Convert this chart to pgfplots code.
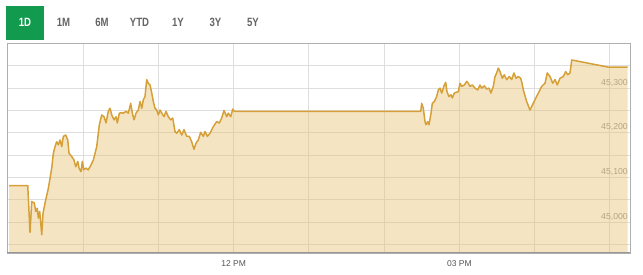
\documentclass[border=0pt]{standalone}
\usepackage{fontspec}
\setmainfont{Liberation Sans}
\newfontfamily\btnfont[FakeStretch=0.8]{Liberation Sans}
\usepackage{pgfplots}
\usepackage{pgfplotstable}
\pgfplotsset{compat=1.18}
\definecolor{btngreen}{RGB}{18,155,78}
\definecolor{btngray}{RGB}{100,100,100}
\definecolor{linegold}{RGB}{214,160,56}
\definecolor{fillgold}{RGB}{233,195,119}
\definecolor{gridc}{RGB}{222,222,222}
\definecolor{boxc}{RGB}{175,175,175}
\definecolor{axisdark}{RGB}{150,150,150}
\definecolor{ylab}{RGB}{140,140,140}
\definecolor{xlab}{RGB}{85,85,85}
\pgfplotstableread{
h v
9.012 45082
9.261 45082
9.291 44977
9.314 45046
9.348 45043
9.367 45024
9.388 45031
9.402 45009
9.420 45024
9.447 44972
9.464 45020
9.491 45043
9.535 45076
9.580 45121
9.601 45154
9.624 45169
9.646 45180
9.668 45173
9.690 45184
9.713 45169
9.734 45192
9.766 45195
9.793 45184
9.810 45154
9.846 45147
9.876 45139
9.899 45124
9.926 45136
9.943 45121
9.969 45113
9.987 45136
10.005 45117
10.032 45121
10.066 45117
10.102 45128
10.133 45139
10.178 45169
10.213 45218
10.245 45240
10.275 45236
10.302 45222
10.332 45248
10.355 45255
10.378 45240
10.408 45229
10.435 45236
10.452 45222
10.479 45244
10.511 45245
10.532 45244
10.568 45248
10.598 45244
10.630 45266
10.652 45244
10.674 45229
10.701 45244
10.731 45251
10.754 45270
10.777 45255
10.798 45274
10.820 45281
10.843 45319
10.864 45311
10.887 45307
10.910 45289
10.931 45270
10.953 45255
10.976 45251
10.997 45240
11.020 45251
11.043 45244
11.073 45236
11.100 45248
11.130 45236
11.162 45229
11.189 45233
11.219 45203
11.241 45199
11.277 45207
11.309 45195
11.339 45207
11.375 45192
11.410 45192
11.441 45180
11.472 45163
11.499 45177
11.529 45184
11.561 45201
11.596 45192
11.618 45203
11.649 45192
11.685 45199
11.729 45214
11.774 45225
11.809 45222
11.840 45233
11.871 45250
11.907 45236
11.928 45244
11.960 45236
11.987 45253
12.008 45248
14.487 45248
14.500 45266
14.521 45255
14.544 45225
14.557 45218
14.580 45225
14.597 45218
14.624 45244
14.641 45266
14.668 45270
14.699 45281
14.721 45296
14.743 45300
14.766 45289
14.801 45307
14.819 45313
14.836 45292
14.863 45281
14.890 45285
14.907 45278
14.934 45289
14.965 45291
14.987 45292
15.009 45311
15.032 45304
15.066 45307
15.098 45315
15.120 45311
15.142 45304
15.173 45307
15.209 45300
15.245 45296
15.275 45307
15.298 45300
15.332 45305
15.364 45298
15.395 45300
15.421 45289
15.452 45304
15.475 45326
15.497 45334
15.519 45345
15.541 45337
15.572 45322
15.598 45330
15.630 45319
15.665 45326
15.697 45319
15.727 45334
15.754 45322
15.785 45326
15.816 45322
15.834 45311
15.851 45296
15.896 45270
15.940 45251
15.963 45259
16.007 45274
16.051 45289
16.096 45304
16.140 45311
16.170 45334
16.206 45326
16.242 45311
16.273 45319
16.303 45307
16.339 45322
16.383 45326
16.415 45337
16.441 45330
16.472 45334
16.495 45363
16.981 45347
17.239 45347
}\kse
\begin{document}
\begin{tikzpicture}
\path[use as bounding box] (0pt,0pt) rectangle (643pt,275pt);
\fill[btngreen] (6pt,235pt) rectangle (44pt,269pt);
\begin{scope}[every node/.style={font=\btnfont\bfseries\fontsize{12}{14}\selectfont, inner sep=0pt, anchor=center}]
\node[text=white] at (25pt,253pt) {1D};
\node[text=btngray] at (63.5pt,253pt) {1M};
\node[text=btngray] at (102pt,253pt) {6M};
\node[text=btngray] at (139.5pt,253pt) {YTD};
\node[text=btngray] at (178pt,253pt) {1Y};
\node[text=btngray] at (215.5pt,253pt) {3Y};
\node[text=btngray] at (253pt,253pt) {5Y};
\end{scope}
\begin{axis}[
  at={(7pt,22pt)}, anchor=south west,
  scale only axis, width=623pt, height=210pt,
  xmin=8.985, xmax=17.27, ymin=44931, ymax=45401,
  scaled y ticks=false, scaled x ticks=false,
  axis line style={draw=boxc, line width=0.8pt},
  grid=major, major grid style={draw=gridc, line width=0.9pt},
  major tick length=0pt, tick style={draw=none},
  xtick={10,11,12,13,14,15,16,17},
  xticklabels={,,12 PM,,,03 PM,,},
  xticklabel style={anchor=north, inner sep=0pt, yshift=-7pt, text=xlab, font=\fontsize{8.5}{10}\selectfont},
  ytick={44950,45000,45050,45100,45150,45200,45250,45300,45350},
  yticklabels={{},{45,000},{},{45,100},{},{45,200},{},{45,300},{}},
  yticklabel pos=right,
  yticklabel style={anchor=base east, inner sep=0pt, xshift=-2pt, yshift=3pt, text=ylab, font=\fontsize{8.7}{10}\selectfont},
]
\addplot[draw=none, fill=fillgold, fill opacity=0.45] table[x=h, y=v] {\kse} \closedcycle;
\addplot[draw=linegold, line width=1.5pt, line join=round, mark=none] table[x=h, y=v] {\kse};
\draw[axisdark, line width=1.6pt] (rel axis cs:0,0) -- (rel axis cs:1,0);
\end{axis}
\end{tikzpicture}
\end{document}
